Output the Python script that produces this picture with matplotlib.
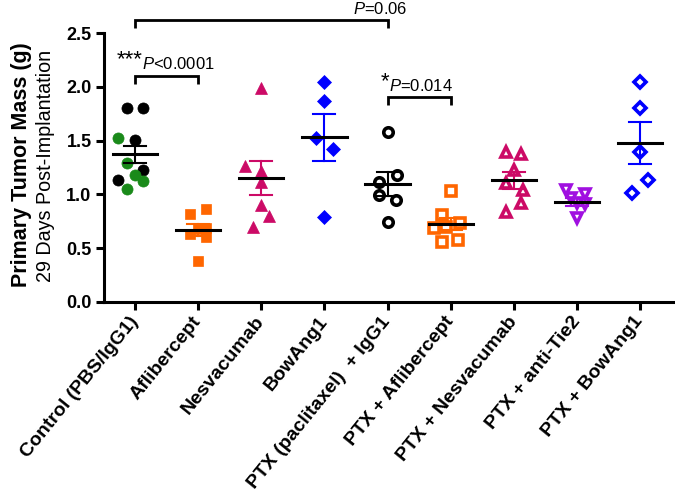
import matplotlib
matplotlib.use("Agg")
import matplotlib.pyplot as plt
import numpy as np

plt.rcParams['font.family'] = ['Liberation Sans', 'DejaVu Sans']
plt.rcParams['mathtext.fontset'] = 'custom'
plt.rcParams['mathtext.rm'] = 'Liberation Sans'
plt.rcParams['mathtext.it'] = 'Liberation Sans:italic'

categories = ["Control (PBS/IgG1)", "Aflibercept", "Nesvacumab", "BowAng1",
              "PTX (paclitaxel)  + IgG1", "PTX + Aflibercept", "PTX + Nesvacumab",
              "PTX + anti-Tie2", "PTX + BowAng1"]

# individual tumour masses (g)
control_black = [1.80, 1.80, 1.506, 1.227, 1.134]
control_green = [1.521, 1.295, 1.18, 1.127, 1.047]
aflibercept = [0.864, 0.818, 0.632, 0.688, 0.60, 0.68, 0.381]
nesvacumab = [1.986, 1.267, 1.22, 1.118, 0.90, 0.80, 0.70]
bowang1 = [2.04, 1.871, 1.52, 1.422, 0.793]
ptx_igg1 = [1.583, 1.18, 1.118, 0.994, 0.948, 0.746]
ptx_aflibercept = [1.034, 0.809, 0.685, 0.70, 0.731, 0.561, 0.576]
ptx_nesvacumab = [1.397, 1.375, 1.227, 1.103, 1.041, 0.923, 0.84]
ptx_antitie2 = [1.04, 1.00, 0.97, 0.92, 0.91, 0.78]
ptx_bowang1 = [2.048, 1.806, 1.397, 1.134, 1.01]

# horizontal jitter of points (category units)
jit_control_black = [-0.13, 0.12, 0.0, 0.12, -0.265]
jit_control_green = [-0.265, -0.13, 0.0, 0.12, -0.13]
jit_aflibercept = [0.12, -0.13, -0.13, 0.13, 0.13, 0.0, 0.0]
jit_nesvacumab = [0.0, -0.26, 0.0, 0.0, 0.0, 0.13, -0.13]
jit_bowang1 = [0.0, 0.0, -0.14, 0.13, 0.0]
jit_ptx_igg1 = [0.0, 0.15, -0.14, -0.14, 0.13, 0.0]
jit_ptx_aflibercept = [0.0, -0.13, -0.26, -0.08, 0.15, -0.13, 0.12]
jit_ptx_nesvacumab = [-0.13, 0.11, 0.0, -0.13, 0.14, 0.11, -0.12]
jit_ptx_antitie2 = [-0.17, 0.12, -0.10, 0.0, 0.13, 0.0]
jit_ptx_bowang1 = [0.0, 0.0, 0.0, 0.13, -0.13]

# group mean and SEM
means = [1.375, 0.669, 1.15, 1.53, 1.097, 0.725, 1.13, 0.93, 1.48]
sems = [0.079, 0.06, 0.16, 0.215, 0.11, 0.06, 0.08, 0.035, 0.197]

black = "#000000"
green = "#1a8a1a"
orange = "#ff6600"
crimson = "#cc0a66"
blue = "#0000ff"
purple = "#a010e0"
sem_colors = [black, orange, crimson, blue, black, orange, crimson, purple, blue]

fig = plt.figure(figsize=(6.75, 4.91), dpi=100)
ax = fig.add_axes([104/675, 1-302/491, (673-104)/675, (302-33)/491])

def pts(i, vals, jit, marker, color, filled, ms):
    x = np.full(len(vals), i, dtype=float) + np.array(jit)
    if filled:
        ax.plot(x, vals, ls='none', marker=marker, ms=ms, mfc=color, mec=color,
                mew=0.5, zorder=3)
    else:
        ax.plot(x, vals, ls='none', marker=marker, ms=ms, mfc='none', mec=color,
                mew=2.6, zorder=3)

pts(0, control_black, jit_control_black, 'o', black, True, 8.0)
pts(0, control_green, jit_control_green, 'o', green, True, 8.0)
pts(1, aflibercept, jit_aflibercept, 's', orange, True, 7.5)
pts(2, nesvacumab, jit_nesvacumab, '^', crimson, True, 8.2)
pts(3, bowang1, jit_bowang1, 'D', blue, True, 7.0)
pts(4, ptx_igg1, jit_ptx_igg1, 'o', black, False, 6.8)
pts(5, ptx_aflibercept, jit_ptx_aflibercept, 's', orange, False, 6.8)
pts(6, ptx_nesvacumab, jit_ptx_nesvacumab, '^', crimson, False, 7.6)
pts(7, ptx_antitie2, jit_ptx_antitie2, 'v', purple, False, 7.6)
pts(8, ptx_bowang1, jit_ptx_bowang1, 'D', blue, False, 6.4)

for i, (m, s) in enumerate(zip(means, sems)):
    c = sem_colors[i]
    ax.plot([i, i], [m - s, m + s], color=c, lw=1.5, zorder=4)
    ax.plot([i - 0.175, i + 0.175], [m + s, m + s], color=c, lw=1.5, zorder=4)
    ax.plot([i - 0.175, i + 0.175], [m - s, m - s], color=c, lw=1.5, zorder=4)
    ax.plot([i - 0.35, i + 0.35], [m, m], color=black, lw=2.2, zorder=5)

ax.set_xlim(-0.49, 8.52)
ax.set_ylim(0, 2.5)
ax.set_yticks([0, 0.5, 1.0, 1.5, 2.0, 2.5])
ax.set_yticklabels(["0.0", "0.5", "1.0", "1.5", "2.0", "2.5"], fontsize=13, fontweight='bold')
ax.set_xticks(range(len(categories)))
ax.set_xticklabels(categories, rotation=51, ha='right', va='center', rotation_mode='anchor',
                   fontsize=14, fontweight='bold')
for sp in ['top', 'right']:
    ax.spines[sp].set_visible(False)
for sp in ['left', 'bottom']:
    ax.spines[sp].set_linewidth(2.2)
ax.tick_params(axis='both', width=2.2, length=6, pad=3)
ax.tick_params(axis='x', pad=6)

fig.text(22/675, 1-165/491, "Primary Tumor Mass (g)", rotation=90, ha='center', va='center',
         fontsize=15.5, fontweight='bold')
fig.text(46/675, 1-166/491, "29 Days Post-Implantation", rotation=90, ha='center', va='center',
         fontsize=14.2)

def bracket(x0, x1, y, drop):
    ax.plot([x0, x0, x1, x1], [y - drop, y, y, y - drop], color=black, lw=2.0,
            clip_on=False, solid_capstyle='butt', solid_joinstyle='miter')

bracket(0, 4, 2.62, 0.075)
bracket(0, 1, 2.10, 0.075)
bracket(4, 5, 1.905, 0.075)

ax.text(3.89, 2.72, r"$\it{P}$=0.06", ha='center', va='center', fontsize=12, clip_on=False)
ax.text(0.11, 2.21, r"$\it{P}$<0.0001", ha='left', va='center', fontsize=12)
ax.text(0.12, 2.25, "***", ha='right', va='center', fontsize=16)
ax.text(4.03, 2.01, r"$\it{P}$=0.014", ha='left', va='center', fontsize=12)
ax.text(4.03, 2.05, "*", ha='right', va='center', fontsize=16)

fig.savefig("out.png", dpi=100)
